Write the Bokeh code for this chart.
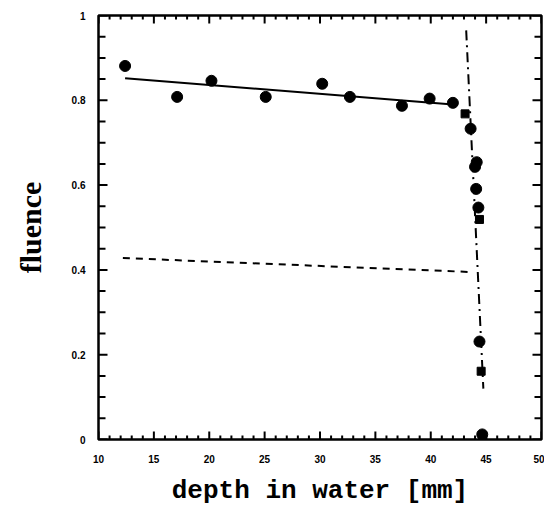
from bokeh.plotting import figure
from bokeh.models import LinearAxis, Range1d, FixedTicker
from bokeh.embed import file_html
from bokeh.resources import INLINE

# measured fluence (circles)
circ_x = [12.4, 17.1, 20.2, 25.1, 30.2, 32.7, 37.4, 39.9, 42.0, 43.6, 44.0, 44.15, 44.1, 44.3, 44.4, 44.65]
circ_y = [0.881, 0.808, 0.846, 0.808, 0.839, 0.808, 0.787, 0.804, 0.794, 0.733, 0.643, 0.654, 0.591, 0.547, 0.231, 0.012]
# measured fluence (squares)
sq_x = [43.1, 44.4, 44.55, 44.7]
sq_y = [0.768, 0.519, 0.161, 0.0]
# fitted plateau (solid)
fit_x = [12.4, 42.0]
fit_y = [0.852, 0.790]
# dashed curve
dash_x = [12.2, 43.6]
dash_y = [0.428, 0.395]
# dash-dot falloff
fall_x = [43.2, 44.75]
fall_y = [0.965, 0.12]

x_ticks = [10, 15, 20, 25, 30, 35, 40, 45, 50]
x_minor = [v for v in range(10, 51) if v % 5 != 0]
y_ticks = [0, 0.2, 0.4, 0.6, 0.8, 1.0]
y_minor = [round(i * 0.05, 2) for i in range(21) if i % 4 != 0]
y_labels = ["0", "0.2", "0.4", "0.6", "0.8", "1"]

X0, X1, Y0, Y1 = 10, 50, 0, 1
W, H = 544, 508
BL, BR, BT, BB = 98, 3, 15, 65
px_x = (X1 - X0) / (W - BL - BR)   # data units per pixel, x
px_y = (Y1 - Y0) / (H - BT - BB)   # data units per pixel, y

p = figure(width=W, height=H, output_backend="svg", toolbar_location=None,
           x_range=Range1d(X0, X1), y_range=Range1d(Y0, Y1),
           x_axis_location=None, y_axis_location=None,
           min_border_left=BL, min_border_right=BR, min_border_top=BT, min_border_bottom=BB)
p.outline_line_color = "black"
p.outline_line_width = 2.5
p.grid.visible = False
p.background_fill_color = "white"
p.border_fill_color = "white"

def style(ax, ticks):
    ax.ticker = FixedTicker(ticks=ticks)
    ax.axis_line_color = None
    ax.major_tick_line_color = None
    ax.minor_tick_line_color = None
    ax.major_tick_in = 0
    ax.major_tick_out = 0
    ax.minor_tick_in = 0
    ax.minor_tick_out = 0
    ax.major_label_text_font = "Liberation Sans"
    ax.major_label_text_font_style = "bold"
    ax.major_label_text_font_size = "10px"
    ax.major_label_text_color = "black"

bx = LinearAxis()
style(bx, x_ticks)
bx.major_label_standoff = 15
bx.axis_label = "depth in water [mm]"
bx.axis_label_text_font = "Liberation Mono"
bx.axis_label_text_font_style = "bold"
bx.axis_label_text_font_size = "26px"
bx.axis_label_standoff = 10
bx.axis_label_text_color = "black"
p.add_layout(bx, "below")

ly = LinearAxis()
style(ly, y_ticks)
ly.major_label_overrides = {t: l for t, l in zip(y_ticks, y_labels)}
ly.major_label_standoff = 13
ly.axis_label = "fluence"
ly.axis_label_text_font = "Liberation Serif"
ly.axis_label_text_font_style = "bold"
ly.axis_label_text_font_size = "30px"
ly.axis_label_standoff = 22
ly.axis_label_text_color = "black"
p.add_layout(ly, "left")

# inward tick marks on all four sides, lengths given in pixels
def xticks(tk, length):
    n = len(tk)
    p.segment(tk, [Y0] * n, tk, [Y0 + length * px_y] * n, line_color="black", line_width=2)
    p.segment(tk, [Y1] * n, tk, [Y1 - length * px_y] * n, line_color="black", line_width=2)

def yticks(tk, length):
    n = len(tk)
    p.segment([X0] * n, tk, [X0 + length * px_x] * n, tk, line_color="black", line_width=2)
    p.segment([X1] * n, tk, [X1 - length * px_x] * n, tk, line_color="black", line_width=2)

xticks(x_ticks, 8)
xticks(x_minor, 4)
yticks(y_ticks, 9)
yticks(y_minor, 7)

p.line(fit_x, fit_y, line_color="black", line_width=2)
p.line(dash_x, dash_y, line_color="black", line_width=2, line_dash="7 6")
p.line(fall_x, fall_y, line_color="black", line_width=2, line_dash="10 5 2 5")
p.scatter(circ_x, circ_y, marker="circle", size=11, color="black")
p.scatter(sq_x, sq_y, marker="square", size=8, color="black")

open("out.html", "w").write(file_html(p, INLINE))
